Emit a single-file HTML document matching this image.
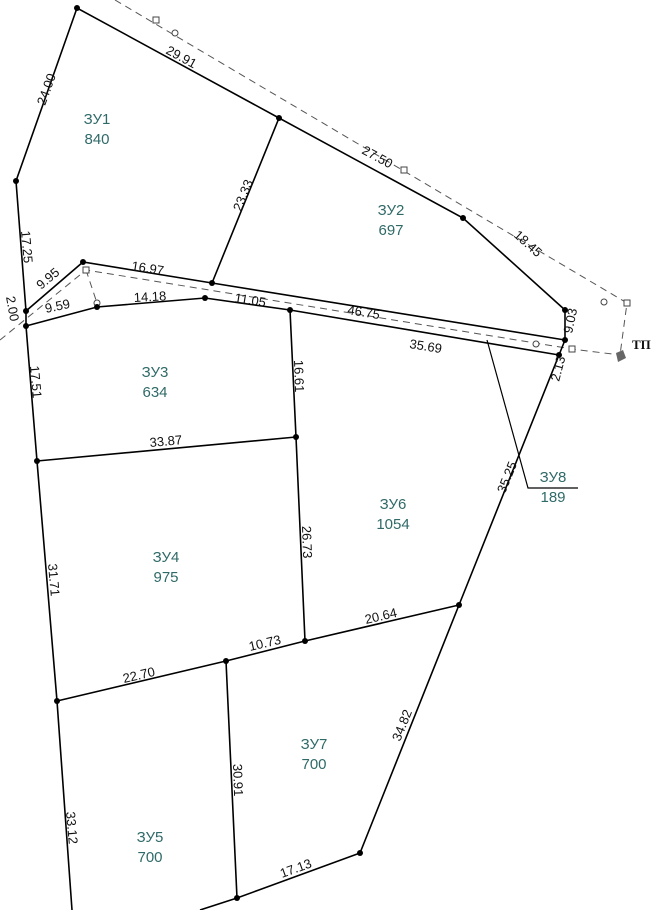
<!DOCTYPE html>
<html><head><meta charset="utf-8"><style>
html,body{margin:0;padding:0;background:#fff;width:657px;height:910px;overflow:hidden}
svg{display:block}
.d{font-family:"Liberation Sans",sans-serif;font-size:13px;fill:#111}
.z{font-family:"Liberation Sans",sans-serif;font-size:15px;fill:#2f6a68;text-anchor:middle}
</style></head><body>
<svg width="657" height="910" viewBox="0 0 657 910" xmlns="http://www.w3.org/2000/svg">
<g fill="none" stroke="#555" stroke-width="1" stroke-dasharray="7,5">
<polyline points="115,0 627,303 620,355"/>
<polyline points="0,340 86,270 572,349 620,355"/>
<line x1="86" y1="270" x2="97" y2="303"/>
</g>
<g fill="#fff" stroke="#444" stroke-width="1">
<rect x="153" y="17" width="6" height="6"/><rect x="401" y="167" width="6" height="6"/>
<rect x="624" y="300" width="6" height="6"/><rect x="83" y="267" width="6" height="6"/>
<rect x="569" y="346" width="6" height="6"/>
<circle cx="175" cy="33" r="3"/><circle cx="604" cy="302" r="3"/><circle cx="97" cy="303" r="3"/><circle cx="536" cy="344" r="3"/>
</g>
<path d="M616,353 l7,-3 l3,8 l-8,4z" fill="#666"/>
<text x="632" y="349" font-family="Liberation Serif,serif" font-size="13" font-weight="bold" fill="#111">ТП</text>
<g fill="none" stroke="#000" stroke-width="1.6">
<polyline points="26,311 16,181 77,8 279,118 463,218 565,310 565,340 559,355 459,605 360,853 237,898 200,910"/>
<polyline points="26,311 83,262 212,283 565,340"/>
<polyline points="26,311 26,326 37,461 57,701 72,910"/>
<polyline points="26,326 97,307 205,298 290,310 559,355"/>
<line x1="279" y1="118" x2="212" y2="283"/>
<polyline points="290,310 296,437 305,641"/>
<line x1="37" y1="461" x2="296" y2="437"/>
<polyline points="57,701 226,661 305,641 459,605"/>
<line x1="226" y1="661" x2="237" y2="898"/>
</g>
<polyline points="487,340 528,488 578,488" fill="none" stroke="#000" stroke-width="1.2"/>
<g fill="#000">
<circle cx="77" cy="8" r="3"/><circle cx="16" cy="181" r="3"/><circle cx="279" cy="118" r="3"/><circle cx="463" cy="218" r="3"/>
<circle cx="565" cy="310" r="3"/><circle cx="565" cy="340" r="3"/><circle cx="559" cy="355" r="3"/>
<circle cx="26" cy="311" r="3"/><circle cx="26" cy="326" r="3"/><circle cx="83" cy="262" r="3"/><circle cx="212" cy="283" r="3"/>
<circle cx="97" cy="307" r="3"/><circle cx="205" cy="298" r="3"/><circle cx="290" cy="310" r="3"/>
<circle cx="37" cy="461" r="3"/><circle cx="296" cy="437" r="3"/><circle cx="305" cy="641" r="3"/><circle cx="459" cy="605" r="3"/>
<circle cx="57" cy="701" r="3"/><circle cx="226" cy="661" r="3"/><circle cx="360" cy="853" r="3"/><circle cx="237" cy="898" r="3"/>
</g>
<g class="d">
<text transform="translate(45,106) rotate(-70)">24.00</text>
<text transform="translate(165,53) rotate(28.6)">29.91</text>
<text transform="translate(361,153) rotate(28.6)">27.50</text>
<text transform="translate(513,236) rotate(42)">18.45</text>
<text transform="translate(241,212) rotate(-68)">23.33</text>
<text transform="translate(21,231) rotate(85)">17.25</text>
<text transform="translate(41,290) rotate(-40)">9.95</text>
<text transform="translate(6,297) rotate(80)">2.00</text>
<text x="131" y="270" transform="rotate(9 131 270)">16.97</text>
<text x="46" y="313" transform="rotate(-12 46 313)">9.59</text>
<text x="134" y="302" transform="rotate(-3 134 302)">14.18</text>
<text x="234" y="302" transform="rotate(9 234 302)">11.05</text>
<text x="347" y="314" transform="rotate(9 347 314)">46.75</text>
<text x="409" y="348" transform="rotate(9 409 348)">35.69</text>
<text transform="translate(572,334) rotate(-78)">9.03</text>
<text transform="translate(559,382) rotate(-75)">2.13</text>
<text transform="translate(30,366) rotate(85)">17.51</text>
<text transform="translate(294,360) rotate(88)">16.61</text>
<text x="150" y="447" transform="rotate(-5 150 447)">33.87</text>
<text transform="translate(302,526) rotate(88)">26.73</text>
<text transform="translate(505,494) rotate(-68)">35.25</text>
<text transform="translate(48,564) rotate(85)">31.71</text>
<text x="366" y="624" transform="rotate(-13 366 624)">20.64</text>
<text x="250" y="651" transform="rotate(-13 250 651)">10.73</text>
<text x="124" y="683" transform="rotate(-13 124 683)">22.70</text>
<text transform="translate(400,742) rotate(-68)">34.82</text>
<text transform="translate(233,764) rotate(88)">30.91</text>
<text transform="translate(66,812) rotate(85)">33.12</text>
<text x="282" y="878" transform="rotate(-20 282 878)">17.13</text>
</g>
<g class="z">
<text x="97" y="124">ЗУ1</text><text x="97" y="144">840</text>
<text x="391" y="215">ЗУ2</text><text x="391" y="235">697</text>
<text x="155" y="377">ЗУ3</text><text x="155" y="397">634</text>
<text x="166" y="562">ЗУ4</text><text x="166" y="582">975</text>
<text x="393" y="509">ЗУ6</text><text x="393" y="529">1054</text>
<text x="553" y="482">ЗУ8</text><text x="553" y="502">189</text>
<text x="314" y="749">ЗУ7</text><text x="314" y="769">700</text>
<text x="150" y="842">ЗУ5</text><text x="150" y="862">700</text>
</g>
</svg>
</body></html>
